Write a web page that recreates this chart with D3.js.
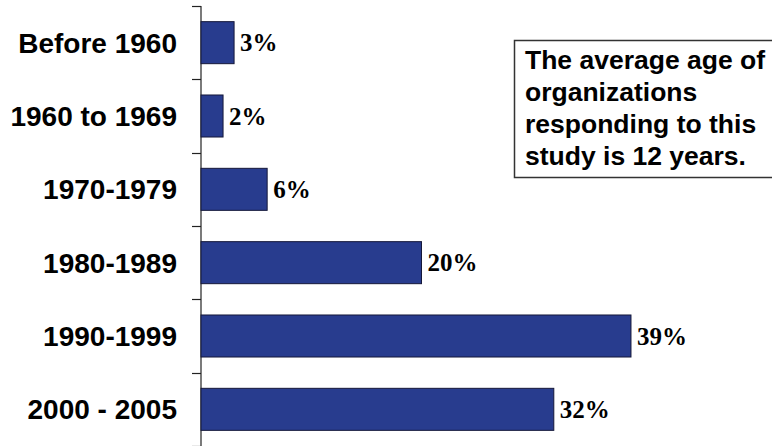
<!DOCTYPE html>
<html>
<head>
<meta charset="utf-8">
<script src="https://cdn.jsdelivr.net/npm/d3@7"></script>
<style>
  html, body { margin: 0; padding: 0; background: #fff; }
  svg { display: block; }
</style>
</head>
<body>
<script>
const categories = ["Before 1960", "1960 to 1969", "1970-1979", "1980-1989", "1990-1999", "2000 - 2005"];
const values = [3, 2, 6, 20, 39, 32];
const valueLabels = ["3%", "2%", "6%", "20%", "39%", "32%"];
const noteLines = ["The average age of", "organizations", "responding to this", "study is 12 years."];

const W = 772, H = 446;
const svg = d3.select("body").append("svg").attr("width", W).attr("height", H);

const x = d3.scaleLinear().domain([0, 40]).range([201, 642]);
const y = d3.scaleBand().domain(categories).range([6, 446]).paddingInner(0.427).paddingOuter(0.2135);

// axis line
svg.append("line")
  .attr("x1", x(0)).attr("x2", x(0))
  .attr("y1", 6).attr("y2", 446)
  .attr("stroke", "#222").attr("stroke-width", 1.2);

// ticks at band boundaries
const step = y.step();
const r0 = y.range()[0];
const boundaries = d3.range(categories.length + 1).map(i => r0 + i * step);
svg.selectAll("line.tick").data(boundaries).enter().append("line")
  .attr("class", "tick")
  .attr("x1", x(0) - 9).attr("x2", x(0))
  .attr("y1", d => Math.round(d) + 0.5).attr("y2", d => Math.round(d) + 0.5)
  .attr("stroke", "#222").attr("stroke-width", 1.2);

// bars
svg.selectAll("rect.bar").data(values).enter().append("rect")
  .attr("class", "bar")
  .attr("x", x(0))
  .attr("y", (d, i) => y(categories[i]))
  .attr("width", d => x(d) - x(0))
  .attr("height", y.bandwidth())
  .attr("fill", "#283c8e")
  .attr("stroke", "#15183a").attr("stroke-width", 1);

// category labels
svg.selectAll("text.cat").data(categories).enter().append("text")
  .attr("class", "cat")
  .attr("x", 177)
  .attr("y", d => y(d) + y.bandwidth() / 2)
  .attr("dy", "0.36em")
  .attr("text-anchor", "end")
  .attr("font-family", "'Liberation Sans', Arial, sans-serif")
  .attr("font-weight", "bold")
  .attr("font-size", 28)
  .attr("fill", "#000")
  .text(d => d);

// value labels
svg.selectAll("text.val").data(values).enter().append("text")
  .attr("class", "val")
  .attr("x", d => x(d) + 6)
  .attr("y", (d, i) => y(categories[i]) + y.bandwidth() / 2)
  .attr("dy", "0.35em")
  .attr("font-family", "'Liberation Serif', 'Times New Roman', serif")
  .attr("font-weight", "bold")
  .attr("font-size", 25)
  .attr("fill", "#000")
  .text((d, i) => valueLabels[i]);

// note box
const note = svg.append("g");
note.append("rect")
  .attr("x", 514.5).attr("y", 40.5)
  .attr("width", 300).attr("height", 137)
  .attr("fill", "#fff").attr("stroke", "#333").attr("stroke-width", 1.5);
note.selectAll("text").data(noteLines).enter().append("text")
  .attr("x", 525)
  .attr("y", (d, i) => 68.5 + i * 32.3)
  .attr("font-family", "'Liberation Sans', Arial, sans-serif")
  .attr("font-weight", "bold")
  .attr("font-size", 26.5)
  .attr("fill", "#000")
  .text(d => d);
</script>
</body>
</html>
